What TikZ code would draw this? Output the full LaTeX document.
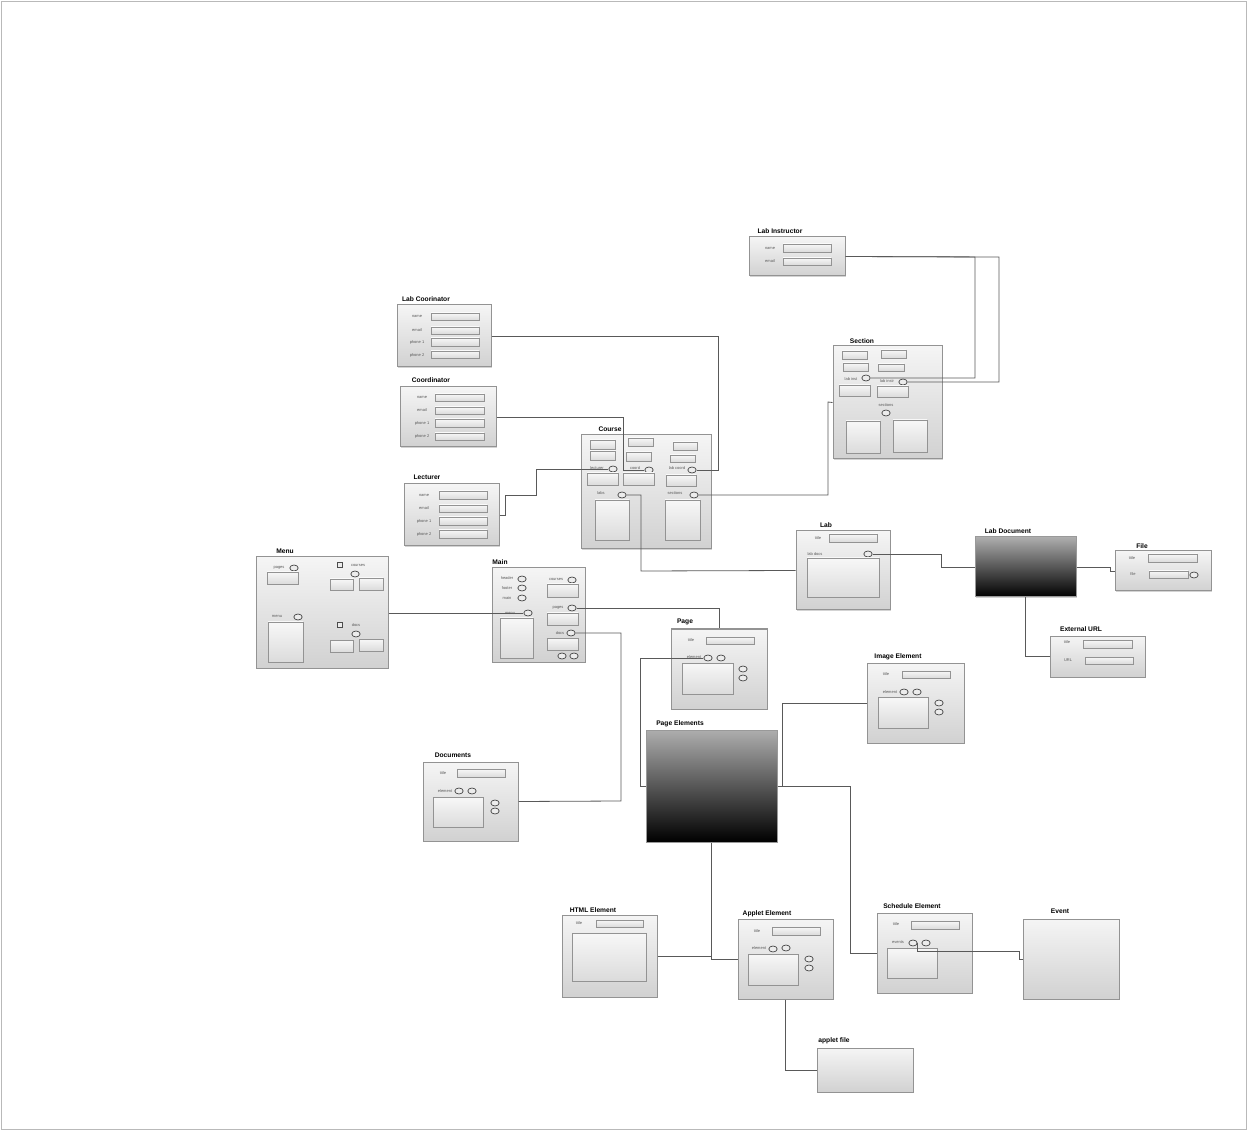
\documentclass[tikz,border=0pt]{standalone}
\usepackage{fontspec}
\setmainfont{Liberation Sans}
\usetikzlibrary{fit,shadows,shapes.geometric}
\begin{document}
\begin{tikzpicture}[x=0.75pt,y=-0.75pt,
 comp/.style={draw=gray!85, line width=0.75pt, top color=gray!8, bottom color=gray!36, inner sep=0pt,
   drop shadow={shadow xshift=1pt, shadow yshift=-1pt, opacity=0.35, fill=gray}},
 dark/.style={draw=gray!80, line width=0.75pt, top color=black!32, bottom color=black, inner sep=0pt,
   drop shadow={shadow xshift=1pt, shadow yshift=-1pt, opacity=0.35, fill=gray}},
 fld/.style={draw=gray!85, line width=0.55pt, top color=gray!6, bottom color=gray!28, inner sep=0pt},
 ov/.style={ellipse, draw=gray!60!black, line width=0.55pt, fill=gray!15, minimum width=6.3pt, minimum height=4.5pt, inner sep=0pt},
 chk/.style={rectangle, draw=gray!60!black, line width=0.5pt, fill=gray!15, minimum size=4pt, inner sep=0pt},
 ttl/.style={font=\bfseries\fontsize{5}{6}\selectfont, inner sep=0pt},
 lbl/.style={font=\fontsize{3}{3.5}\selectfont, text=black!65, inner sep=0pt},
 conn/.style={draw=black!65, line width=0.6pt}]
\useasboundingbox (0,0) rectangle (1247,1130);
\draw[gray!55, line width=0.6pt] (1,1) rectangle (1246,1129);

% ---------- Lab Instructor
\node[ttl] (li-t) at (780,231) {Lab Instructor};
\node[comp, fit={(749,237)(845,276)}] (li) {};
\node[lbl] (li-l1) at (770,248) {name};
\node[fld, fit={(783,244)(831,252)}] (li-f1) {};
\node[lbl] (li-l2) at (770,261) {email};
\node[fld, fit={(783,258)(831,265)}] (li-f2) {};

% ---------- Section
\node[ttl] (sec-t) at (862,341) {Section};
\node[comp, fit={(833,346)(942,459)}] (sec) {};
\node[fld, fit={(842,351)(867,359)}] (sec-f1) {};
\node[fld, fit={(881,350)(906,358)}] (sec-f2) {};
\node[fld, fit={(843,363)(868,371)}] (sec-f3) {};
\node[fld, fit={(878,364)(904,371)}] (sec-f4) {};
\node[lbl] (sec-l1) at (851,379) {lab inst};
\node[ov] (sec-o1) at (866,378) {};
\node[lbl] (sec-l2) at (887,381) {lab instr};
\node[ov] (sec-o2) at (903,382) {};
\node[fld, fit={(839,385)(870,396)}] (sec-f5) {};
\node[fld, fit={(877,386)(908,397)}] (sec-f6) {};
\node[lbl] (sec-l3) at (886,405) {sections};
\node[ov] (sec-o3) at (886,413) {};
\node[fld, fit={(846,421)(880,453)}] (sec-f7) {};
\node[fld, fit={(893,420)(927,452)}] (sec-f8) {};

% ---------- Lab Coorinator
\node[ttl] (lc-t) at (426,299) {Lab Coorinator};
\node[comp, fit={(397,305)(491,367)}] (lc) {};
\node[lbl] (lc-l1) at (417,316) {name};
\node[fld, fit={(431,313)(479,320)}] (lc-f1) {};
\node[lbl] (lc-l2) at (417,330) {email};
\node[fld, fit={(431,327)(479,334)}] (lc-f2) {};
\node[lbl] (lc-l3) at (417,342) {phone 1};
\node[fld, fit={(431,338)(479,346)}] (lc-f3) {};
\node[lbl] (lc-l4) at (417,355) {phone 2};
\node[fld, fit={(431,351)(479,358)}] (lc-f4) {};

% ---------- Coordinator
\node[ttl] (coo-t) at (431,380) {Coordinator};
\node[comp, fit={(400,387)(496,447)}] (coo) {};
\node[lbl] (coo-l1) at (422,397) {name};
\node[fld, fit={(435,394)(484,401)}] (coo-f1) {};
\node[lbl] (coo-l2) at (422,410) {email};
\node[fld, fit={(435,407)(484,414)}] (coo-f2) {};
\node[lbl] (coo-l3) at (422,423) {phone 1};
\node[fld, fit={(435,419)(484,427)}] (coo-f3) {};
\node[lbl] (coo-l4) at (422,436) {phone 2};
\node[fld, fit={(435,433)(484,440)}] (coo-f4) {};

% ---------- Lecturer
\node[ttl] (lec-t) at (427,477) {Lecturer};
\node[comp, fit={(404,484)(499,546)}] (lec) {};
\node[lbl] (lec-l1) at (424,495) {name};
\node[fld, fit={(439,491)(487,499)}] (lec-f1) {};
\node[lbl] (lec-l2) at (424,508) {email};
\node[fld, fit={(439,505)(487,512)}] (lec-f2) {};
\node[lbl] (lec-l3) at (424,521) {phone 1};
\node[fld, fit={(439,517)(487,525)}] (lec-f3) {};
\node[lbl] (lec-l4) at (424,534) {phone 2};
\node[fld, fit={(439,530)(487,538)}] (lec-f4) {};

% ---------- Course
\node[ttl] (crs-t) at (610,429) {Course};
\node[comp, fit={(581,435)(711,549)}] (crs) {};
\node[fld, fit={(590,440)(615,449)}] (crs-f1) {};
\node[fld, fit={(628,438)(653,446)}] (crs-f2) {};
\node[fld, fit={(673,442)(697,450)}] (crs-f3) {};
\node[fld, fit={(590,451)(615,460)}] (crs-f4) {};
\node[fld, fit={(626,452)(651,461)}] (crs-f5) {};
\node[fld, fit={(670,455)(695,462)}] (crs-f6) {};
\node[lbl] (crs-l1) at (597,468) {lecturer};
\node[ov] (crs-o1) at (613,469) {};
\node[lbl] (crs-l2) at (635,468) {coord};
\node[ov] (crs-o2) at (649,470) {};
\node[lbl] (crs-l3) at (677,468) {lab coord};
\node[ov] (crs-o3) at (692,470) {};
\node[fld, fit={(587,473)(618,485)}] (crs-f7) {};
\node[fld, fit={(623,473)(654,485)}] (crs-f8) {};
\node[fld, fit={(666,475)(696,486)}] (crs-f9) {};
\node[lbl] (crs-l4) at (601,493) {labs};
\node[ov] (crs-o4) at (622,495) {};
\node[lbl] (crs-l5) at (675,493) {sections};
\node[ov] (crs-o5) at (694,495) {};
\node[fld, fit={(595,500)(629,540)}] (crs-f10) {};
\node[fld, fit={(665,500)(700,540)}] (crs-f11) {};

% ---------- Lab
\node[ttl] (lab-t) at (826,525) {Lab};
\node[comp, fit={(796,531)(890,610)}] (lab) {};
\node[lbl] (lab-l1) at (818,538) {title};
\node[fld, fit={(829,534)(877,542)}] (lab-f1) {};
\node[lbl] (lab-l2) at (815,554) {lab docs};
\node[ov] (lab-o1) at (868,554) {};
\node[fld, fit={(807,558)(879,597)}] (lab-f2) {};

% ---------- Lab Document
\node[ttl] (ld-t) at (1008,531) {Lab Document};
\node[dark, fit={(975,537)(1076,597)}] (ld) {};

% ---------- File
\node[ttl] (file-t) at (1142,546) {File};
\node[comp, fit={(1115,551)(1211,591)}] (file) {};
\node[lbl] (file-l1) at (1132,558) {title};
\node[fld, fit={(1148,554)(1197,562)}] (file-f1) {};
\node[lbl] (file-l2) at (1133,574) {file};
\node[fld, fit={(1149,571)(1188,578)}] (file-f2) {};
\node[ov] (file-o1) at (1194,575) {};

% ---------- External URL
\node[ttl] (ext-t) at (1081,629) {External URL};
\node[comp, fit={(1050,636)(1145,677)}] (ext) {};
\node[lbl] (ext-l1) at (1067,642) {title};
\node[fld, fit={(1083,640)(1132,648)}] (ext-f1) {};
\node[lbl] (ext-l2) at (1068,660) {URL};
\node[fld, fit={(1085,657)(1133,664)}] (ext-f2) {};

% ---------- Menu
\node[ttl] (menu-t) at (285,551) {Menu};
\node[comp, fit={(256,557)(388,668)}] (menu) {};
\node[lbl] (menu-l1) at (279,568) {pages};
\node[ov] (menu-o1) at (294,568) {};
\node[fld, fit={(267,572)(298,584)}] (menu-f1) {};
\node[chk] (menu-c1) at (340,565) {};
\node[lbl] (menu-l2) at (358,565) {courses};
\node[ov] (menu-o2) at (355,574) {};
\node[fld, fit={(330,579)(353,590)}] (menu-f2) {};
\node[fld, fit={(359,578)(383,590)}] (menu-f3) {};
\node[lbl] (menu-l3) at (277,616) {menu};
\node[ov] (menu-o3) at (298,617) {};
\node[fld, fit={(268,622)(303,662)}] (menu-f4) {};
\node[chk] (menu-c2) at (340,625) {};
\node[lbl] (menu-l4) at (356,625) {docs};
\node[ov] (menu-o4) at (356,634) {};
\node[fld, fit={(330,640)(353,652)}] (menu-f5) {};
\node[fld, fit={(359,639)(383,651)}] (menu-f6) {};

% ---------- Main
\node[ttl] (main-t) at (500,562) {Main};
\node[comp, fit={(492,568)(585,662)}] (main) {};
\node[lbl] (main-l1) at (507,578) {header};
\node[ov] (main-o1) at (522,579) {};
\node[lbl] (main-l2) at (507,588) {footer};
\node[ov] (main-o2) at (522,588) {};
\node[lbl] (main-l3) at (507,598) {main};
\node[ov] (main-o3) at (522,598) {};
\node[lbl] (main-l4) at (510,613) {menu};
\node[ov] (main-o4) at (528,613) {};
\node[fld, fit={(500,618)(533,658)}] (main-f1) {};
\node[lbl] (main-l5) at (556,579) {courses};
\node[ov] (main-o5) at (572,580) {};
\node[fld, fit={(547,584)(578,597)}] (main-f2) {};
\node[lbl] (main-l6) at (558,608) {pages};
\node[ov] (main-o6) at (572,608) {};
\node[fld, fit={(547,613)(578,625)}] (main-f3) {};
\node[lbl] (main-l7) at (560,633) {docs};
\node[ov] (main-o7) at (571,633) {};
\node[fld, fit={(547,638)(578,650)}] (main-f4) {};
\node[ov] (main-o8) at (562,656) {};
\node[ov] (main-o9) at (574,656) {};

% ---------- Page
\node[ttl] (page-t) at (685,622) {Page};
\node[comp, fit={(671,629)(767,709)}] (page) {};
\node[lbl] (page-l1) at (691,640) {title};
\node[fld, fit={(706,637)(754,644)}] (page-f1) {};
\node[lbl] (page-l2) at (694,657) {element};
\node[ov] (page-o1) at (708,658) {};
\node[ov] (page-o2) at (721,658) {};
\node[fld, fit={(682,663)(733,694)}] (page-f2) {};
\node[ov] (page-o3) at (743,669) {};
\node[ov] (page-o4) at (743,678) {};

% ---------- Page Elements
\node[ttl] (pe-t) at (680,724) {Page Elements};
\node[dark, fit={(646,730)(777,842)}] (pe) {};

% ---------- Image Element
\node[ttl] (img-t) at (898,657) {Image Element};
\node[comp, fit={(867,663)(964,743)}] (img) {};
\node[lbl] (img-l1) at (886,674) {title};
\node[fld, fit={(902,671)(950,678)}] (img-f1) {};
\node[lbl] (img-l2) at (890,692) {element};
\node[ov] (img-o1) at (904,692) {};
\node[ov] (img-o2) at (917,692) {};
\node[fld, fit={(878,697)(928,728)}] (img-f2) {};
\node[ov] (img-o3) at (939,703) {};
\node[ov] (img-o4) at (939,712) {};

% ---------- Documents
\node[ttl] (docs-t) at (453,755) {Documents};
\node[comp, fit={(423,762)(518,841)}] (docs) {};
\node[lbl] (docs-l1) at (443,773) {title};
\node[fld, fit={(457,769)(505,777)}] (docs-f1) {};
\node[lbl] (docs-l2) at (445,791) {element};
\node[ov] (docs-o1) at (459,791) {};
\node[ov] (docs-o2) at (472,791) {};
\node[fld, fit={(433,797)(483,827)}] (docs-f2) {};
\node[ov] (docs-o3) at (495,803) {};
\node[ov] (docs-o4) at (495,811) {};

% ---------- HTML Element
\node[ttl] (html-t) at (593,910) {HTML Element};
\node[comp, fit={(562,915)(657,997)}] (html) {};
\node[lbl] (html-l1) at (579,923) {title};
\node[fld, fit={(596,920)(643,927)}] (html-f1) {};
\node[fld, fit={(572,933)(646,981)}] (html-f2) {};

% ---------- Applet Element
\node[ttl] (app-t) at (767,914) {Applet Element};
\node[comp, fit={(738,919)(833,999)}] (app) {};
\node[lbl] (app-l1) at (757,931) {title};
\node[fld, fit={(772,927)(820,935)}] (app-f1) {};
\node[lbl] (app-l2) at (759,948) {element};
\node[ov] (app-o1) at (773,949) {};
\node[ov] (app-o2) at (786,948) {};
\node[fld, fit={(748,954)(798,985)}] (app-f2) {};
\node[ov] (app-o3) at (809,959) {};
\node[ov] (app-o4) at (809,968) {};

% ---------- Schedule Element
\node[ttl] (sch-t) at (912,906) {Schedule Element};
\node[comp, fit={(877,913)(972,993)}] (sch) {};
\node[lbl] (sch-l1) at (896,924) {title};
\node[fld, fit={(911,921)(959,929)}] (sch-f1) {};
\node[lbl] (sch-l2) at (898,942) {events};
\node[ov] (sch-o1) at (913,943) {};
\node[ov] (sch-o2) at (926,943) {};
\node[fld, fit={(887,948)(937,978)}] (sch-f2) {};

% ---------- Event
\node[ttl] (ev-t) at (1060,911) {Event};
\node[comp, fit={(1023,919)(1119,999)}] (ev) {};

% ---------- applet file
\node[ttl] (af-t) at (834,1041) {applet file};
\node[comp, fit={(817,1048)(913,1092)}] (af) {};

% ---------- connectors
\draw[conn] (li.east) -- (975,257) |- (sec-o1.east);
\draw[conn] (li.east) -- (999,257) |- (sec-o2.east);
\draw[conn] (crs-o5.east) -| (828,402) -- (sec.west);
\draw[conn] (lc.east) -| (718,470) -- (crs-o3.east);
\draw[conn] (coo.east) -| (623,470) -- (crs-o2.west);
\draw[conn] (lec.east) -- (505,515) -- (505,495) -- (536,495) |- (crs-o1.west);
\draw[conn] (crs-o4.east) -| (641,571) -- (lab.west);
\draw[conn] (lab-o1.east) -| (941,567) -- (ld.west);
\draw[conn] (ld.east) -- (1110,567) |- (file.west);
\draw[conn] (ld.south) |- (ext.west);
\draw[conn] (menu.east |- main-o4.west) -- (main-o4.west);
\draw[conn] (main-o6.east) -| (page.north);
\draw[conn] (main-o7.east) -| (621,801) -- (docs.east);
\draw[conn] (page-o1.west) -| (640,786) -- (pe.west);
\draw[conn] (pe.east) -- (782,786) |- (img.west);
\draw[conn] (pe.east) -| (850,953) -- (sch.west);
\draw[conn] (pe.south) |- (app.west);
\draw[conn] (html.east) -- (html.east -| pe.south);
\draw[conn] (app.south) |- (af.west);
\draw[conn] (sch-o1.east) |- (1019,951) |- (ev.west);
\end{tikzpicture}
\end{document}
